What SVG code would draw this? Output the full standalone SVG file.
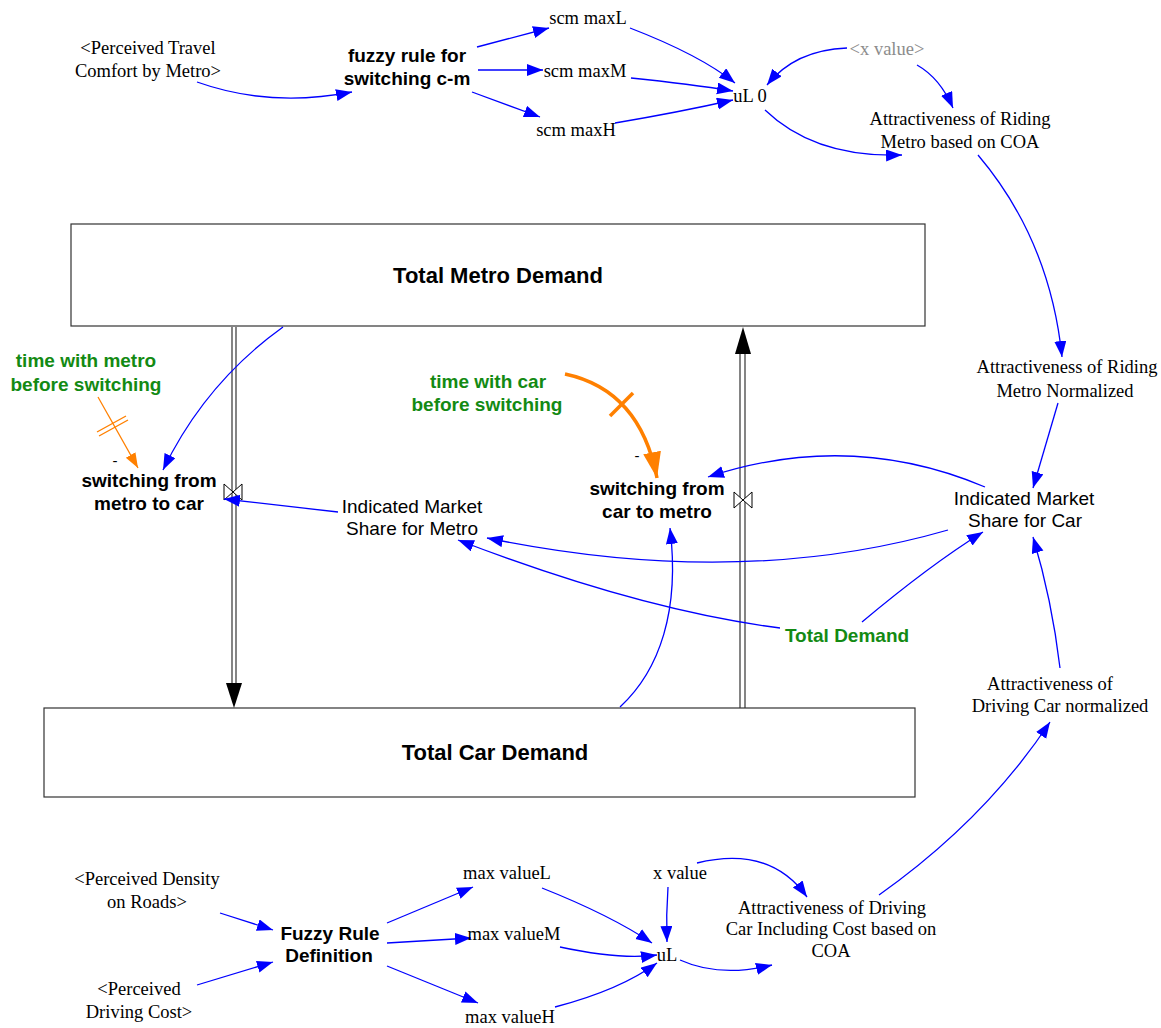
<svg xmlns="http://www.w3.org/2000/svg" width="1161" height="1028" viewBox="0 0 1161 1028">
  <defs>
    <marker id="arrow" markerUnits="userSpaceOnUse" markerWidth="17" markerHeight="13" refX="16" refY="6" orient="auto">
      <path d="M0,0 L16,6 L0,12 z" fill="#0000FF"/>
    </marker>
    <marker id="arrowOrange" markerUnits="userSpaceOnUse" markerWidth="16" markerHeight="12" refX="15" refY="5.5" orient="auto">
      <path d="M0,0 L15,5.5 L0,11 z" fill="#FF8000"/>
    </marker>
    <marker id="arrowOrangeBig" markerUnits="userSpaceOnUse" markerWidth="27" markerHeight="19" refX="26" refY="9" orient="auto">
      <path d="M0,0 L26,9 L0,18 z" fill="#FF8000"/>
    </marker>
    <style>
      .serif { font-family: "Liberation Serif", "Times New Roman", serif; font-size: 18.5px; fill: #000; text-anchor: middle; }
      .sans { font-family: "Liberation Sans", Arial, sans-serif; font-size: 19px; fill: #000; text-anchor: middle; }
      .bold { font-family: "Liberation Sans", Arial, sans-serif; font-size: 19px; font-weight: bold; fill: #000; text-anchor: middle; }
      .stock-label { font-family: "Liberation Sans", Arial, sans-serif; font-size: 22px; font-weight: bold; fill: #000; text-anchor: middle; }
      .minus { font-family: "Liberation Sans", Arial, sans-serif; font-size: 15px; fill: #000; text-anchor: middle; }
      .green { fill: #138A13; }
      .gray { fill: #8C8C8C; }
      .stock { fill: #fff; stroke: #333; stroke-width: 1.2; }
      .pipe { stroke: #333; stroke-width: 1.2; fill: none; }
      .valve { fill: #fff; stroke: #000; stroke-width: 1; }
      .link { fill: none; stroke: #0000FF; stroke-width: 1.3; marker-end: url(#arrow); }
      .delay { fill: none; stroke: #FF8000; stroke-width: 1.3; }
      .delay-thick { fill: none; stroke: #FF8000; stroke-width: 3.5; }
    </style>
  </defs>

  <!-- stocks -->
  <g id="total-metro-demand">
    <rect class="stock" x="71" y="224" width="854" height="102"/>
    <text class="stock-label" x="498" y="283">Total Metro Demand</text>
  </g>
  <g id="total-car-demand">
    <rect class="stock" x="44" y="708" width="871" height="89"/>
    <text class="stock-label" x="495" y="760">Total Car Demand</text>
  </g>

  <!-- flows with valves -->
  <g id="flow-metro-to-car">
    <line class="pipe" x1="232" y1="327" x2="232" y2="685"/>
    <line class="pipe" x1="236" y1="327" x2="236" y2="685"/>
    <polygon points="226,683 242,683 234,708" fill="#000"/>
    <polygon class="valve" points="224,484 242,500 242,484 224,500"/>
  </g>
  <g id="flow-car-to-metro">
    <line class="pipe" x1="740" y1="708" x2="740" y2="352"/>
    <line class="pipe" x1="745" y1="708" x2="745" y2="352"/>
    <polygon points="735,354 751,354 743,327" fill="#000"/>
    <polygon class="valve" points="734,492 752,508 752,492 734,508"/>
  </g>

  <!-- connectors -->
  <g id="connectors">
    <path class="link" d="M197,82 Q270,108 352,92"/>
    <path class="link" d="M477,47 L549,28"/>
    <path class="link" d="M478,70 L543,70"/>
    <path class="link" d="M472,92 L540,117"/>
    <path class="link" d="M630,28 Q700,55 735,83"/>
    <path class="link" d="M631,78 Q690,84 733,91"/>
    <path class="link" d="M615,123 Q680,112 733,100"/>
    <path class="link" d="M847,48 Q795,50 767,85"/>
    <path class="link" d="M917,65 Q940,78 953,108"/>
    <path class="link" d="M765,110 Q815,158 902,155"/>
    <path class="link" d="M978,155 Q1050,240 1062,357"/>
    <path class="link" d="M1058,403 L1033,488"/>
    <path class="link" d="M985,487 Q850,430 708,477"/>
    <path class="link" d="M948,530 Q740,590 487,538"/>
    <path class="link" d="M780,628 Q640,610 458,540"/>
    <path class="link" d="M862,622 Q930,565 983,532"/>
    <path class="link" d="M338,512 L224,499"/>
    <path class="link" d="M283,327 Q205,383 163,470"/>
    <path class="link" d="M620,707 C660,670 680,610 670,528"/>
    <path class="link" d="M220,913 L273,930"/>
    <path class="link" d="M197,985 L273,962"/>
    <path class="link" d="M387,923 L473,887"/>
    <path class="link" d="M387,943 L471,938"/>
    <path class="link" d="M387,966 L478,1003"/>
    <path class="link" d="M542,888 Q610,915 652,943"/>
    <path class="link" d="M560,947 Q620,960 657,955"/>
    <path class="link" d="M555,1007 Q620,990 657,963"/>
    <path class="link" d="M668,887 Q666,915 667,942"/>
    <path class="link" d="M697,863 Q770,845 807,897"/>
    <path class="link" d="M680,960 Q720,978 772,965"/>
    <path class="link" d="M879,895 Q985,820 1050,722"/>
    <path class="link" d="M1060,668 Q1052,600 1033,537"/>
    <!-- delayed links with hash marks -->
    <path class="delay" d="M98,397 L138,468" marker-end="url(#arrowOrange)"/>
    <line class="delay" x1="97" y1="432" x2="126" y2="416"/>
    <line class="delay" x1="99" y1="436" x2="128" y2="420"/>
    <path class="delay-thick" d="M565,374 Q640,390 657,478" marker-end="url(#arrowOrangeBig)"/>
    <line class="delay-thick" x1="610" y1="416" x2="633" y2="393"/>
  </g>

  <!-- auxiliary variables -->
  <g id="perceived-travel-comfort">
    <text class="serif" x="148" y="54">&lt;Perceived Travel</text>
    <text class="serif" x="148" y="77">Comfort by Metro&gt;</text>
  </g>
  <g id="fuzzy-rule-switching">
    <text class="bold" x="407" y="62">fuzzy rule for</text>
    <text class="bold" x="407" y="85">switching c-m</text>
  </g>
  <g id="scm-maxL"><text class="serif" x="588" y="24">scm maxL</text></g>
  <g id="scm-maxM"><text class="serif" x="585" y="77">scm maxM</text></g>
  <g id="scm-maxH"><text class="serif" x="576" y="136">scm maxH</text></g>
  <g id="uL0"><text class="serif" x="750" y="102">uL 0</text></g>
  <g id="x-value-shadow"><text class="serif gray" x="887" y="55">&lt;x value&gt;</text></g>
  <g id="attractiveness-metro-coa">
    <text class="serif" x="960" y="125">Attractiveness of Riding</text>
    <text class="serif" x="960" y="148">Metro based on COA</text>
  </g>
  <g id="attractiveness-metro-normalized">
    <text class="serif" x="1067" y="373">Attractiveness of Riding</text>
    <text class="serif" x="1065" y="397">Metro Normalized</text>
  </g>
  <g id="indicated-share-car">
    <text class="sans" x="1024" y="505">Indicated Market</text>
    <text class="sans" x="1025" y="527">Share for Car</text>
  </g>
  <g id="indicated-share-metro">
    <text class="sans" x="412" y="513">Indicated Market</text>
    <text class="sans" x="412" y="535">Share for Metro</text>
  </g>
  <g id="total-demand"><text class="bold green" x="847" y="642">Total Demand</text></g>
  <g id="time-with-metro">
    <text class="bold green" x="86" y="367">time with metro</text>
    <text class="bold green" x="86" y="391">before switching</text>
  </g>
  <g id="time-with-car">
    <text class="bold green" x="488" y="388">time with car</text>
    <text class="bold green" x="487" y="411">before switching</text>
  </g>
  <g id="switching-metro-to-car">
    <text class="minus" x="115" y="466">-</text>
    <text class="bold" x="149" y="487">switching from</text>
    <text class="bold" x="149" y="510">metro to car</text>
  </g>
  <g id="switching-car-to-metro">
    <text class="minus" x="637" y="461">-</text>
    <text class="bold" x="657" y="495">switching from</text>
    <text class="bold" x="657" y="518">car to metro</text>
  </g>
  <g id="attractiveness-car-normalized">
    <text class="serif" x="1050" y="690">Attractiveness of</text>
    <text class="serif" x="1060" y="712">Driving Car normalized</text>
  </g>
  <g id="perceived-density">
    <text class="serif" x="147" y="885">&lt;Perceived Density</text>
    <text class="serif" x="147" y="908">on Roads&gt;</text>
  </g>
  <g id="perceived-driving-cost">
    <text class="serif" x="139" y="995">&lt;Perceived</text>
    <text class="serif" x="139" y="1018">Driving Cost&gt;</text>
  </g>
  <g id="fuzzy-rule-definition">
    <text class="bold" x="330" y="940">Fuzzy Rule</text>
    <text class="bold" x="329" y="962">Definition</text>
  </g>
  <g id="max-valueL"><text class="serif" x="507" y="879">max valueL</text></g>
  <g id="max-valueM"><text class="serif" x="514" y="940">max valueM</text></g>
  <g id="max-valueH"><text class="serif" x="510" y="1023">max valueH</text></g>
  <g id="x-value"><text class="serif" x="680" y="879">x value</text></g>
  <g id="uL"><text class="serif" x="667" y="961">uL</text></g>
  <g id="attractiveness-car-coa">
    <text class="serif" x="832" y="914">Attractiveness of Driving</text>
    <text class="serif" x="831" y="935">Car Including Cost based on</text>
    <text class="serif" x="831" y="957">COA</text>
  </g>
</svg>
